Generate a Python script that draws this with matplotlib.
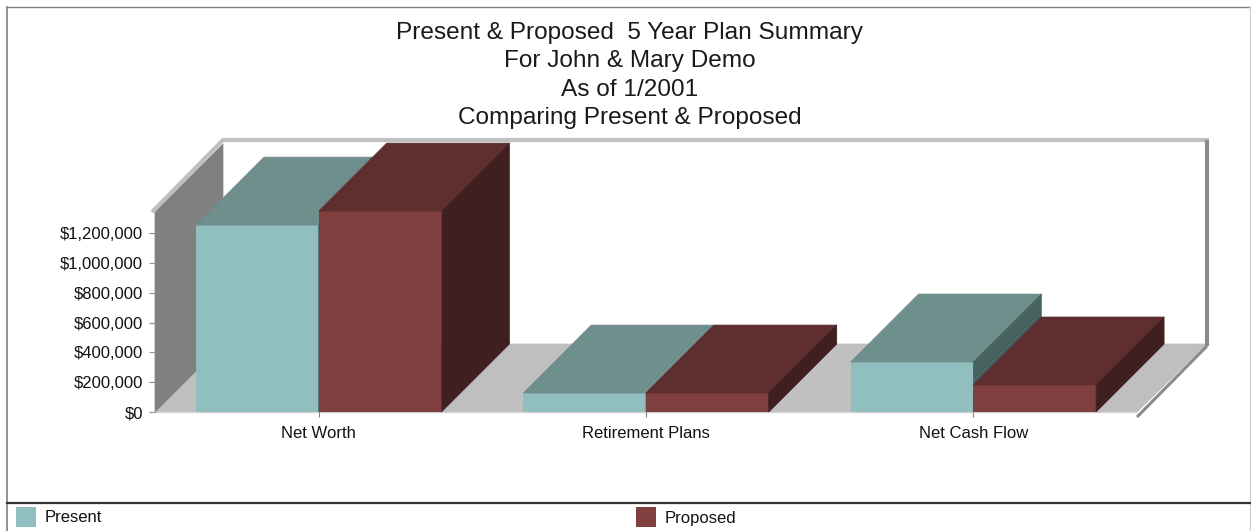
#!/usr/bin/env python3
# -*- coding: utf-8 -*-

import matplotlib
matplotlib.use('Agg')
import matplotlib.pyplot as plt
from matplotlib.lines import Line2D
from matplotlib.patches import Polygon, Rectangle

categories = ['Net Worth', 'Retirement Plans', 'Net Cash Flow']
present = [1253000, 127000, 335000]
proposed = [1347000, 127000, 181000]
y_ticks = [0, 200000, 400000, 600000, 800000, 1000000, 1200000]
title_lines = ['Present & Proposed  5 Year Plan Summary', 'For John & Mary Demo',
	'As of 1/2001', 'Comparing Present & Proposed']

WIDTH, HEIGHT = 1251, 531
LEFT, RIGHT, BASE, TOP = 155, 1137, 412, 212
DEPTH = 68
YMAX = 1341000
BAR_W = 0.375

TEAL = ('#91bfbf', '#6f8f8c', '#486260')
MAROON = ('#7f3f3f', '#5f2f2f', '#3f1f1f')

plt.rcParams['font.family'] = ['Liberation Sans', 'DejaVu Sans']


def fx(px):
	return px / WIDTH


def fy(py):
	return 1 - py / HEIGHT


fig = plt.figure(figsize=(WIDTH / 100, HEIGHT / 100), dpi=100)
ax = fig.add_axes([fx(LEFT), fy(BASE), fx(RIGHT - LEFT), (BASE - TOP) / HEIGHT])
ax.set_xlim(0, len(categories))
ax.set_ylim(0, YMAX)
for side in ax.spines.values():
	side.set_visible(False)
ax.patch.set_visible(False)

# depth of the fake 3d box, expressed in data units
px_x = len(categories) / (RIGHT - LEFT)
px_y = YMAX / (BASE - TOP)
dx = DEPTH * px_x
dy = DEPTH * px_y


def poly(points, color, z):
	ax.add_patch(Polygon(points, closed=True, facecolor=color, edgecolor=color,
		linewidth=0.5, clip_on=False, zorder=z))


def edge(xs, ys, color, lw, z=1):
	ax.add_line(Line2D(xs, ys, color=color, linewidth=lw, clip_on=False,
		solid_capstyle='butt', zorder=z))


def bar3d(x0, value, colors, z):
	x1 = x0 + BAR_W
	ax.bar(x0, value, BAR_W, align='edge', color=colors[0], clip_on=False, zorder=z)
	poly([(x0, value), (x1, value), (x1 + dx, value + dy), (x0 + dx, value + dy)], colors[1], z)
	poly([(x1, 0), (x1 + dx, dy), (x1 + dx, value + dy), (x1, value)], colors[2], z)


n = len(categories)
back_x = n + dx + 2 * px_x
back_top = YMAX + dy + 4 * px_y
# floor and walls
poly([(0, 0), (dx, dy), (back_x, dy), (n, 0)], '#bfbfbf', 1)
poly([(0, 0), (dx, dy), (dx, YMAX + dy), (0, YMAX)], '#808080', 1)
edge([-3 * px_x, dx, back_x + 2 * px_x], [YMAX, back_top, back_top], '#c0c0c0', 3)
edge([back_x, back_x], [dy - 2 * px_y, back_top], '#8a8a8a', 3)
edge([back_x, n], [dy - 2 * px_y, -5 * px_y], '#8a8a8a', 2.2)
edge([0, n], [0, 0], '#d4d4d4', 1)

for i in range(n):
	bar3d(i + 0.5 - BAR_W, present[i], TEAL, 2 + 2 * i)
	bar3d(i + 0.5, proposed[i], MAROON, 3 + 2 * i)

ax.set_xticks([i + 0.5 for i in range(n)])
ax.set_xticklabels(categories, fontsize=12, color='#111111')
ax.set_yticks(y_ticks)
ax.set_yticklabels(['${:,}'.format(v) for v in y_ticks], fontsize=12, color='#111111')
ax.tick_params(axis='x', length=3.6, width=0.8, color='#808080', pad=6.7)
ax.tick_params(axis='y', length=4.3, width=0.8, color='#909090', pad=4.2)

# title block
for i, line in enumerate(title_lines):
	fig.text(fx(629.5), fy(33.3 + i * 28.2), line, fontsize=17.6, color='#1a1a1a',
		ha='center', va='center')

# outer frame and legend strip
for xs, ys, color, lw in [
	([7, 7], [7, 531], '#808080', 1.2),
	([7, 1250], [7, 7], '#808080', 1),
	([1250, 1250], [7, 531], '#d0d0d0', 1),
	([7, 1250], [502.5, 502.5], '#333333', 1.6),
]:
	fig.add_artist(Line2D([fx(v) for v in xs], [fy(v) for v in ys], color=color, linewidth=lw))

for label, color, x in [('Present', TEAL[0], 16), ('Proposed', MAROON[0], 636)]:
	fig.add_artist(Rectangle((fx(x), fy(527)), 20 / WIDTH, 20 / HEIGHT,
		facecolor=color, edgecolor='none', transform=fig.transFigure))
	fig.text(fx(x + 29), fy(518), label, fontsize=12, color='#111111', va='center')

fig.savefig('out.png', dpi=100)
